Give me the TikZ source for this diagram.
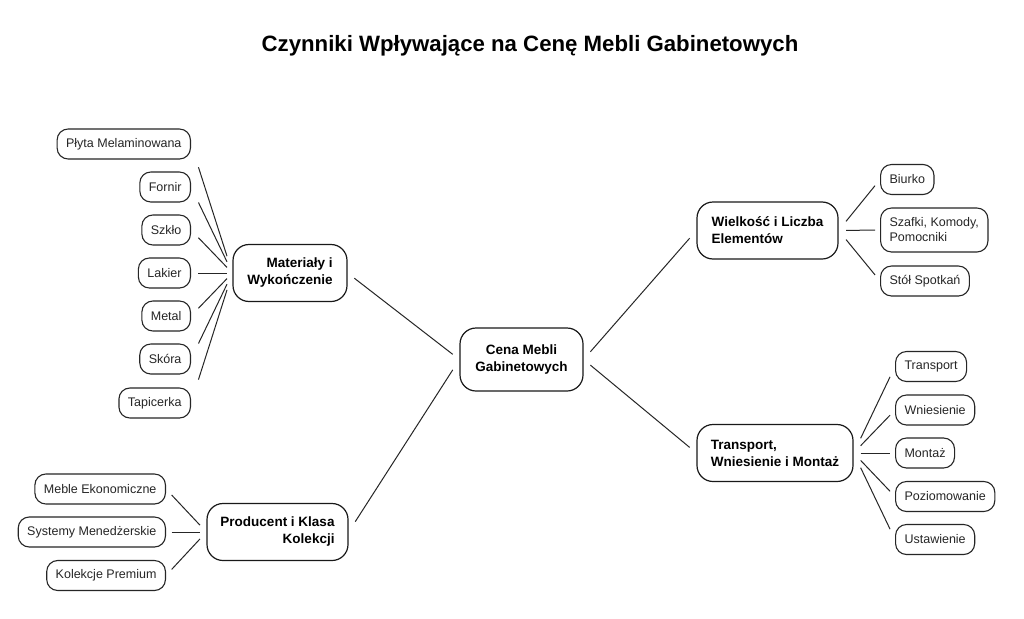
\documentclass[tikz,border=0pt]{standalone}
\usepackage{fontspec}
\setmainfont{Liberation Sans}
\usetikzlibrary{calc}

\tikzset{
	leaf/.style={draw=black!85, line width=1.1pt, rounded corners=11pt, minimum height=30pt, inner xsep=9pt, inner ysep=0pt, text=black!85, font=\fontsize{12.5}{15}\selectfont},
	branch/.style={draw=black!90, line width=1.2pt, rounded corners=16pt, minimum height=57pt, inner xsep=12pt, text=black, font=\bfseries\fontsize{13.5}{17}\selectfont},
	link/.style={line width=1pt, draw=black!85}
}

\begin{document}
\begin{tikzpicture}[x=1pt, y=-1pt]
		\path[fill=white, use as bounding box] (0,0) rectangle (1024,618);

		\node[font=\bfseries\fontsize{22.2}{26}\selectfont, text=black] (title) at (530,46) {Czynniki Wpływające na Cenę Mebli Gabinetowych};

		% central node and main branches
		\node[branch, align=center, minimum width=123, minimum height=63] (cena) at (521.5,359.5) {Cena Mebli\\Gabinetowych};
		\node[branch, align=right, minimum width=114] (mat) at (290,273) {Materiały i\\Wykończenie};
		\node[branch, align=right, minimum width=141] (prod) at (277.5,532) {Producent i Klasa\\Kolekcji};
		\node[branch, align=left, minimum width=141] (wiel) at (767.5,230.5) {Wielkość i Liczba\\Elementów};
		\node[branch, align=left, minimum width=156] (trans) at (775,453) {Transport,\\Wniesienie i Montaż};

		% materials
		\node[leaf, anchor=east] (plyta) at (191,144) {Płyta Melaminowana};
		\node[leaf, anchor=east] (fornir) at (191,187) {Fornir};
		\node[leaf, anchor=east] (szklo) at (191,230) {Szkło};
		\node[leaf, anchor=east] (lakier) at (191,273) {Lakier};
		\node[leaf, anchor=east] (metal) at (191,316) {Metal};
		\node[leaf, anchor=east] (skora) at (191,359) {Skóra};
		\node[leaf, anchor=east] (tapic) at (191,403) {Tapicerka};

		% producer
		\node[leaf, anchor=east] (meble) at (166,489) {Meble Ekonomiczne};
		\node[leaf, anchor=east] (systemy) at (166,532) {Systemy Menedżerskie};
		\node[leaf, anchor=east] (premium) at (166,575.5) {Kolekcje Premium};

		% size
		\node[leaf, anchor=west] (biurko) at (880,179.5) {Biurko};
		\node[leaf, anchor=west, align=left, minimum height=44] (szafki) at (880,230) {Szafki, Komody,\\Pomocniki};
		\node[leaf, anchor=west] (stol) at (880,281) {Stół Spotkań};

		% transport
		\node[leaf, anchor=west] (transport) at (895,366.5) {Transport};
		\node[leaf, anchor=west] (wnies) at (895,410) {Wniesienie};
		\node[leaf, anchor=west] (montaz) at (895,453) {Montaż};
		\node[leaf, anchor=west] (poziom) at (895,496.5) {Poziomowanie};
		\node[leaf, anchor=west] (ustaw) at (895,539.5) {Ustawienie};

		\draw[link] ($(mat.east)!0.06!(cena.west)$) -- ($(mat.east)!0.94!(cena.west)$);
		\draw[link] ($(prod.east)!0.06!(cena.west)$) -- ($(prod.east)!0.94!(cena.west)$);
		\draw[link] ($(cena.east)!0.06!(wiel.west)$) -- ($(cena.east)!0.94!(wiel.west)$);
		\draw[link] ($(cena.east)!0.06!(trans.west)$) -- ($(cena.east)!0.94!(trans.west)$);

		\draw[link] ($(plyta.east)!0.18!(mat.west)$) -- ($(plyta.east)!0.87!(mat.west)$);
		\draw[link] ($(fornir.east)!0.18!(mat.west)$) -- ($(fornir.east)!0.87!(mat.west)$);
		\draw[link] ($(szklo.east)!0.18!(mat.west)$) -- ($(szklo.east)!0.87!(mat.west)$);
		\draw[link] ($(lakier.east)!0.18!(mat.west)$) -- ($(lakier.east)!0.87!(mat.west)$);
		\draw[link] ($(metal.east)!0.18!(mat.west)$) -- ($(metal.east)!0.87!(mat.west)$);
		\draw[link] ($(skora.east)!0.18!(mat.west)$) -- ($(skora.east)!0.87!(mat.west)$);
		\draw[link] ($(tapic.east)!0.18!(mat.west)$) -- ($(tapic.east)!0.87!(mat.west)$);

		\draw[link] ($(meble.east)!0.14!(prod.west)$) -- ($(meble.east)!0.84!(prod.west)$);
		\draw[link] ($(systemy.east)!0.14!(prod.west)$) -- ($(systemy.east)!0.84!(prod.west)$);
		\draw[link] ($(premium.east)!0.14!(prod.west)$) -- ($(premium.east)!0.84!(prod.west)$);

		\draw[link] ($(wiel.east)!0.18!(biurko.west)$) -- ($(wiel.east)!0.88!(biurko.west)$);
		\draw[link] ($(wiel.east)!0.18!(szafki.west)$) -- ($(wiel.east)!0.88!(szafki.west)$);
		\draw[link] ($(wiel.east)!0.18!(stol.west)$) -- ($(wiel.east)!0.88!(stol.west)$);

		\draw[link] ($(trans.east)!0.17!(transport.west)$) -- ($(trans.east)!0.88!(transport.west)$);
		\draw[link] ($(trans.east)!0.17!(wnies.west)$) -- ($(trans.east)!0.88!(wnies.west)$);
		\draw[link] ($(trans.east)!0.17!(montaz.west)$) -- ($(trans.east)!0.88!(montaz.west)$);
		\draw[link] ($(trans.east)!0.17!(poziom.west)$) -- ($(trans.east)!0.88!(poziom.west)$);
		\draw[link] ($(trans.east)!0.17!(ustaw.west)$) -- ($(trans.east)!0.88!(ustaw.west)$);

	\end{tikzpicture}
\end{document}
